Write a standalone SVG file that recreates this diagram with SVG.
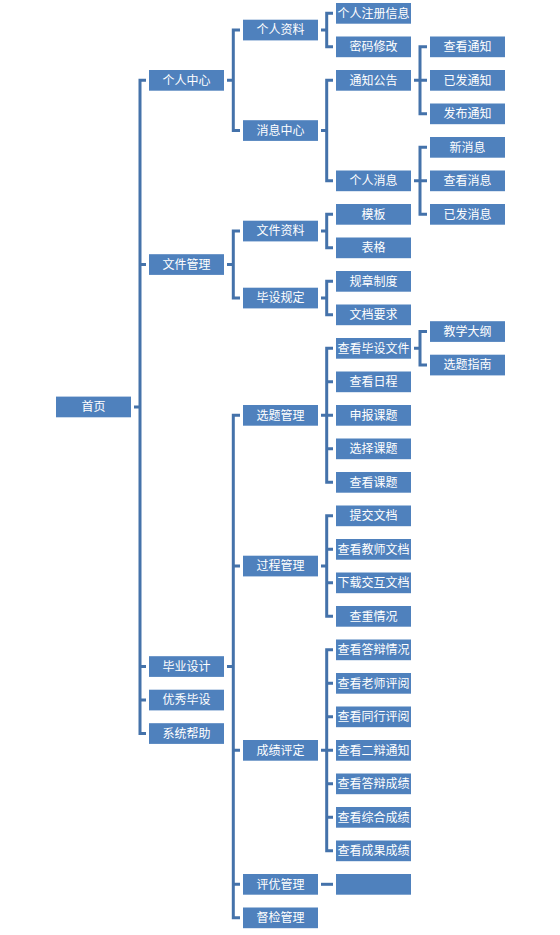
<svg xmlns="http://www.w3.org/2000/svg" width="560" height="935" viewBox="0 0 560 935">
<style>
.b{fill:#4F81BD}
.t{fill:#FFFFFF;font-family:"Noto Sans CJK SC","Noto Sans",sans-serif;font-size:12px;text-anchor:middle}
.c{fill:none;stroke:#4472AA;stroke-width:3;stroke-linejoin:miter;stroke-linecap:butt}
</style>
<rect width="560" height="935" fill="#FFFFFF"/>
<g id="connectors" class="c">
<path d="M134 406.9H140M146 80.3H140V733.6H146M140 264.6H146M140 666.6H146M140 700.1H146"/>
<path d="M227 80.3H233.3M240 30.1H233.3V130.6H240"/>
<path d="M227 264.6H233.3M240 231.1H233.3V298.1H240"/>
<path d="M227 666.6H233.3M240 415.3H233.3V917.8H240M233.3 566.1H240M233.3 750.3H240M233.3 884.3H240"/>
<path d="M321 30.1H326.7M333 13.3H326.7V46.8H333"/>
<path d="M321 130.6H326.7M333 80.3H326.7V180.8H333"/>
<path d="M321 231.1H326.7M333 214.3H326.7V247.8H333"/>
<path d="M321 298.1H326.7M333 281.3H326.7V314.8H333"/>
<path d="M321 415.3H333M333 348.3H326.7V482.3H333M326.7 381.8H333M326.7 448.8H333"/>
<path d="M321 566.1H326.7M333 515.8H326.7V616.3H333M326.7 549.3H333M326.7 582.8H333"/>
<path d="M321 750.3H333M333 649.8H326.7V850.8H333M326.7 683.3H333M326.7 716.8H333M326.7 783.8H333M326.7 817.3H333"/>
<path d="M321 884.3H333"/>
<path d="M414 80.3H427M427 46.8H420V113.8H427"/>
<path d="M414 180.8H427M427 147.3H420V214.3H427"/>
<path d="M414 348.3H420M427 331.6H420V365.1H427"/>
</g>
<g id="n-root"><rect class="b" x="56" y="396.6" width="75" height="20.7"/><text class="t" x="93.5" y="411.3">首页</text></g>
<g id="n-grzx"><rect class="b" x="149" y="70" width="75" height="20.7"/><text class="t" x="186.5" y="84.7">个人中心</text></g>
<g id="n-wjgl"><rect class="b" x="149" y="254.2" width="75" height="20.7"/><text class="t" x="186.5" y="268.9">文件管理</text></g>
<g id="n-bysj"><rect class="b" x="149" y="656.2" width="75" height="20.7"/><text class="t" x="186.5" y="670.9">毕业设计</text></g>
<g id="n-yxbs"><rect class="b" x="149" y="689.7" width="75" height="20.7"/><text class="t" x="186.5" y="704.4">优秀毕设</text></g>
<g id="n-xtbz"><rect class="b" x="149" y="723.2" width="75" height="20.7"/><text class="t" x="186.5" y="737.9">系统帮助</text></g>
<g id="n-grzl"><rect class="b" x="243" y="19.7" width="75" height="20.7"/><text class="t" x="280.5" y="34.4">个人资料</text></g>
<g id="n-xxzx"><rect class="b" x="243" y="120.2" width="75" height="20.7"/><text class="t" x="280.5" y="134.9">消息中心</text></g>
<g id="n-wjzl"><rect class="b" x="243" y="220.7" width="75" height="20.7"/><text class="t" x="280.5" y="235.4">文件资料</text></g>
<g id="n-bsgd"><rect class="b" x="243" y="287.7" width="75" height="20.7"/><text class="t" x="280.5" y="302.4">毕设规定</text></g>
<g id="n-xtgl"><rect class="b" x="243" y="405" width="75" height="20.7"/><text class="t" x="280.5" y="419.7">选题管理</text></g>
<g id="n-gcgl"><rect class="b" x="243" y="555.7" width="75" height="20.7"/><text class="t" x="280.5" y="570.4">过程管理</text></g>
<g id="n-cjpd"><rect class="b" x="243" y="740" width="75" height="20.7"/><text class="t" x="280.5" y="754.7">成绩评定</text></g>
<g id="n-pygl"><rect class="b" x="243" y="874" width="75" height="20.7"/><text class="t" x="280.5" y="888.7">评优管理</text></g>
<g id="n-djgl"><rect class="b" x="243" y="907.5" width="75" height="20.7"/><text class="t" x="280.5" y="922.2">督检管理</text></g>
<g id="n-zcxx"><rect class="b" x="336" y="3" width="75" height="20.7"/><text class="t" x="373.5" y="17.7">个人注册信息</text></g>
<g id="n-mmxg"><rect class="b" x="336" y="36.5" width="75" height="20.7"/><text class="t" x="373.5" y="51.2">密码修改</text></g>
<g id="n-tzgg"><rect class="b" x="336" y="70" width="75" height="20.7"/><text class="t" x="373.5" y="84.7">通知公告</text></g>
<g id="n-grxx"><rect class="b" x="336" y="170.5" width="75" height="20.7"/><text class="t" x="373.5" y="185.2">个人消息</text></g>
<g id="n-mb"><rect class="b" x="336" y="204" width="75" height="20.7"/><text class="t" x="373.5" y="218.7">模板</text></g>
<g id="n-bg"><rect class="b" x="336" y="237.5" width="75" height="20.7"/><text class="t" x="373.5" y="252.2">表格</text></g>
<g id="n-gzzd"><rect class="b" x="336" y="271" width="75" height="20.7"/><text class="t" x="373.5" y="285.7">规章制度</text></g>
<g id="n-wdyq"><rect class="b" x="336" y="304.5" width="75" height="20.7"/><text class="t" x="373.5" y="319.2">文档要求</text></g>
<g id="n-ckbswj"><rect class="b" x="336" y="338" width="75" height="20.7"/><text class="t" x="373.5" y="352.7">查看毕设文件</text></g>
<g id="n-ckrc"><rect class="b" x="336" y="371.5" width="75" height="20.7"/><text class="t" x="373.5" y="386.2">查看日程</text></g>
<g id="n-sbkt"><rect class="b" x="336" y="405" width="75" height="20.7"/><text class="t" x="373.5" y="419.7">申报课题</text></g>
<g id="n-xzkt"><rect class="b" x="336" y="438.5" width="75" height="20.7"/><text class="t" x="373.5" y="453.2">选择课题</text></g>
<g id="n-ckkt"><rect class="b" x="336" y="472" width="75" height="20.7"/><text class="t" x="373.5" y="486.7">查看课题</text></g>
<g id="n-tjwd"><rect class="b" x="336" y="505.5" width="75" height="20.7"/><text class="t" x="373.5" y="520.2">提交文档</text></g>
<g id="n-ckjswd"><rect class="b" x="336" y="539" width="75" height="20.7"/><text class="t" x="373.5" y="553.7">查看教师文档</text></g>
<g id="n-xzjhwd"><rect class="b" x="336" y="572.5" width="75" height="20.7"/><text class="t" x="373.5" y="587.2">下载交互文档</text></g>
<g id="n-ccqk"><rect class="b" x="336" y="606" width="75" height="20.7"/><text class="t" x="373.5" y="620.7">查重情况</text></g>
<g id="n-ckdbqk"><rect class="b" x="336" y="639.5" width="75" height="20.7"/><text class="t" x="373.5" y="654.2">查看答辩情况</text></g>
<g id="n-cklspy"><rect class="b" x="336" y="673" width="75" height="20.7"/><text class="t" x="373.5" y="687.7">查看老师评阅</text></g>
<g id="n-cktxpy"><rect class="b" x="336" y="706.5" width="75" height="20.7"/><text class="t" x="373.5" y="721.2">查看同行评阅</text></g>
<g id="n-ckebtz"><rect class="b" x="336" y="740" width="75" height="20.7"/><text class="t" x="373.5" y="754.7">查看二辩通知</text></g>
<g id="n-ckdbcj"><rect class="b" x="336" y="773.5" width="75" height="20.7"/><text class="t" x="373.5" y="788.2">查看答辩成绩</text></g>
<g id="n-ckzhcj"><rect class="b" x="336" y="807" width="75" height="20.7"/><text class="t" x="373.5" y="821.7">查看综合成绩</text></g>
<g id="n-ckcgcj"><rect class="b" x="336" y="840.5" width="75" height="20.7"/><text class="t" x="373.5" y="855.2">查看成果成绩</text></g>
<g id="n-blank"><rect class="b" x="336" y="874" width="75" height="20.7"/></g>
<g id="n-cktz"><rect class="b" x="430" y="36.5" width="75" height="20.7"/><text class="t" x="467.5" y="51.2">查看通知</text></g>
<g id="n-yftz"><rect class="b" x="430" y="70" width="75" height="20.7"/><text class="t" x="467.5" y="84.7">已发通知</text></g>
<g id="n-fbtz"><rect class="b" x="430" y="103.5" width="75" height="20.7"/><text class="t" x="467.5" y="118.2">发布通知</text></g>
<g id="n-xxx"><rect class="b" x="430" y="137" width="75" height="20.7"/><text class="t" x="467.5" y="151.7">新消息</text></g>
<g id="n-ckxx"><rect class="b" x="430" y="170.5" width="75" height="20.7"/><text class="t" x="467.5" y="185.2">查看消息</text></g>
<g id="n-yfxx"><rect class="b" x="430" y="204" width="75" height="20.7"/><text class="t" x="467.5" y="218.7">已发消息</text></g>
<g id="n-jxdg"><rect class="b" x="430" y="321.2" width="75" height="20.7"/><text class="t" x="467.5" y="335.9">教学大纲</text></g>
<g id="n-xtzn"><rect class="b" x="430" y="354.7" width="75" height="20.7"/><text class="t" x="467.5" y="369.4">选题指南</text></g>
</svg>
